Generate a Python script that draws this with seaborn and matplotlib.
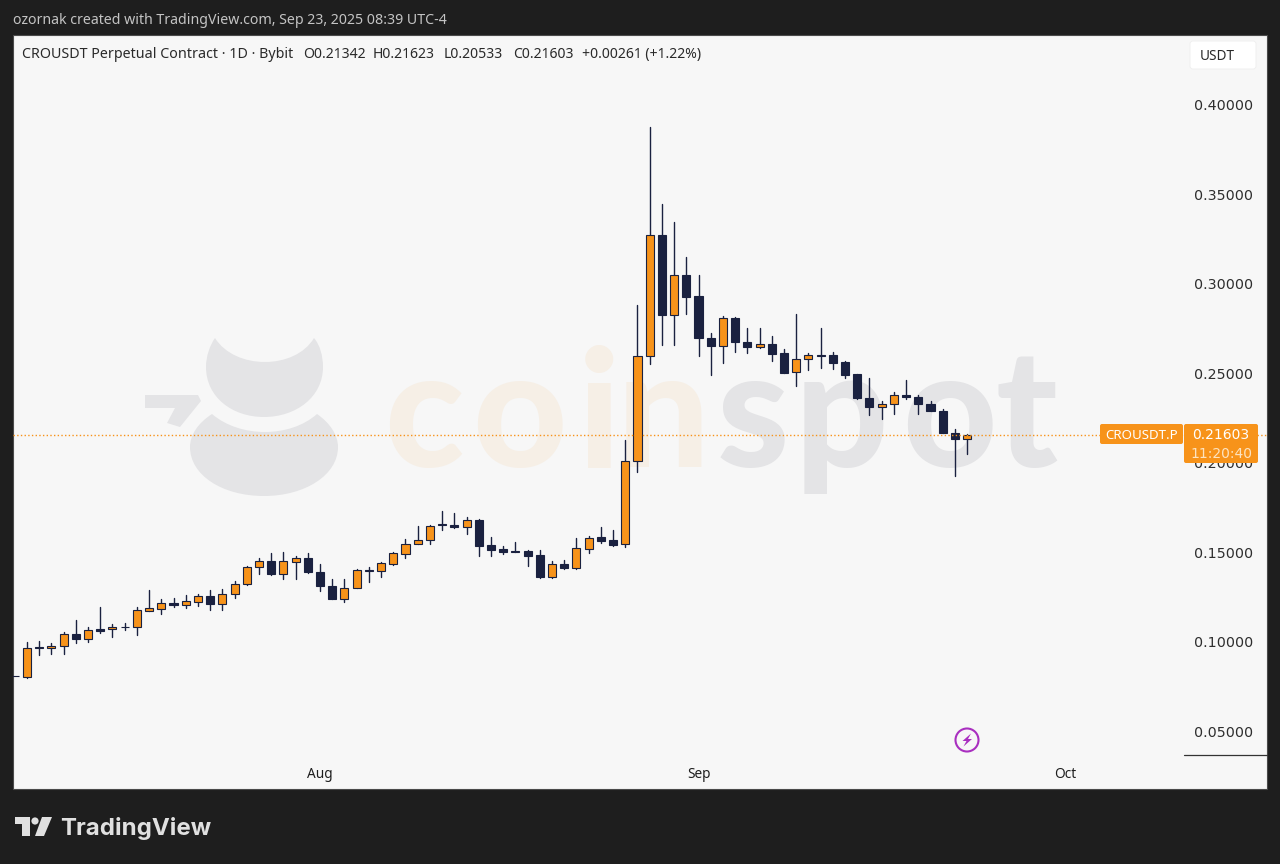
import pandas as pd
import seaborn as sns
import matplotlib.pyplot as plt
from matplotlib.transforms import ScaledTranslation
import matplotlib.dates as mdates
from matplotlib.patches import Rectangle, PathPatch, Polygon, Circle, FancyBboxPatch
from matplotlib.path import Path

dates = pd.date_range('2025-07-07', periods=79)

opens = [0.0813, 0.0809, 0.0973, 0.0969, 0.0980, 0.1047, 0.1017, 0.1075, 0.1073, 0.1088,
         0.1084, 0.1177, 0.1188, 0.1218, 0.1211, 0.1228, 0.1261, 0.1216, 0.1272, 0.1326,
         0.1419, 0.1455, 0.1380, 0.1451, 0.1469, 0.1393, 0.1317, 0.1244, 0.1304, 0.1402,
         0.1397, 0.1440, 0.1496, 0.1551, 0.1574, 0.1659, 0.1657, 0.1644, 0.1685, 0.1542,
         0.1520, 0.1510, 0.1510, 0.1486, 0.1363, 0.1438, 0.1414, 0.1523, 0.1587, 0.1570,
         0.1548, 0.2013, 0.2597, 0.3274, 0.2830, 0.3053, 0.2932, 0.2701, 0.2655, 0.2813,
         0.2679, 0.2647, 0.2668, 0.2614, 0.2508, 0.2584, 0.2603, 0.2603, 0.2564, 0.2498,
         0.2366, 0.2314, 0.2331, 0.2383, 0.2370, 0.2333, 0.2294, 0.2171, 0.21342]
closes = [0.0813, 0.0971, 0.0967, 0.0982, 0.1047, 0.1017, 0.1069, 0.1066, 0.1086, 0.1086,
          0.1179, 0.1190, 0.1218, 0.1209, 0.1229, 0.1261, 0.1216, 0.1272, 0.1328, 0.1421,
          0.1453, 0.1380, 0.1453, 0.1469, 0.1391, 0.1315, 0.1242, 0.1306, 0.1404, 0.1399,
          0.1441, 0.1497, 0.1551, 0.1574, 0.1652, 0.1654, 0.1642, 0.1683, 0.1540, 0.1518,
          0.1507, 0.1507, 0.1484, 0.1363, 0.1436, 0.1414, 0.1525, 0.1585, 0.1566, 0.1544,
          0.2014, 0.2599, 0.3273, 0.2830, 0.3053, 0.2928, 0.2698, 0.2653, 0.2811, 0.2677,
          0.2647, 0.2668, 0.2610, 0.2506, 0.2584, 0.2603, 0.2599, 0.2560, 0.2495, 0.2363,
          0.2314, 0.2333, 0.2381, 0.2368, 0.2331, 0.2292, 0.2171, 0.2134, 0.21603]
highs = [0.0815, 0.1004, 0.1010, 0.0999, 0.1058, 0.1125, 0.1086, 0.1198, 0.1103, 0.1110,
         0.1198, 0.1293, 0.1240, 0.1248, 0.1263, 0.1268, 0.1291, 0.1298, 0.1341, 0.1427,
         0.1473, 0.1499, 0.1505, 0.1482, 0.1499, 0.1438, 0.1356, 0.1352, 0.1408, 0.1421,
         0.1447, 0.1505, 0.1576, 0.1648, 0.1655, 0.1735, 0.1721, 0.1702, 0.1689, 0.1587,
         0.1538, 0.1561, 0.1516, 0.1516, 0.1455, 0.1460, 0.1581, 0.1594, 0.1642, 0.1626,
         0.2130, 0.2884, 0.3879, 0.3449, 0.3347, 0.3153, 0.3049, 0.2726, 0.2822, 0.2815,
         0.2754, 0.2757, 0.2709, 0.2638, 0.2833, 0.2614, 0.2754, 0.2621, 0.2569, 0.2500,
         0.2478, 0.2346, 0.2398, 0.2463, 0.2383, 0.2346, 0.2305, 0.2190, 0.21623]
lows = [0.0811, 0.0803, 0.0928, 0.0935, 0.0934, 0.0999, 0.1004, 0.1054, 0.1028, 0.1069,
        0.1043, 0.1174, 0.1159, 0.1198, 0.1192, 0.1203, 0.1181, 0.1181, 0.1246, 0.1319,
        0.1382, 0.1378, 0.1356, 0.1356, 0.1389, 0.1285, 0.1241, 0.1226, 0.1302, 0.1339,
        0.1363, 0.1434, 0.1471, 0.1549, 0.1549, 0.1629, 0.1641, 0.1607, 0.1482, 0.1484,
        0.1496, 0.1505, 0.1427, 0.1358, 0.1361, 0.1408, 0.1412, 0.1497, 0.1555, 0.1538,
        0.1531, 0.1951, 0.2554, 0.2659, 0.2659, 0.2833, 0.2597, 0.2495, 0.2560, 0.2621,
        0.2614, 0.2645, 0.2571, 0.2502, 0.2433, 0.2521, 0.2534, 0.2526, 0.2476, 0.2357,
        0.2268, 0.2246, 0.2277, 0.2357, 0.2277, 0.2290, 0.2169, 0.1929, 0.20533]

price_ticks = [0.05, 0.10, 0.15, 0.20, 0.25, 0.30, 0.35, 0.40]
month_ticks = pd.to_datetime(['2025-08-01', '2025-09-01', '2025-10-01'])
month_labels = ['Aug', 'Sep', 'Oct']
last_price = 0.21603

ORANGE = '#f7931a'
NAVY = '#1a2140'
PANE = '#f7f7f7'
DARK = '#1e1e1e'

sns.set_theme(style='white')
plt.rcParams['font.family'] = ['Noto Sans', 'DejaVu Sans']

df = pd.DataFrame({'date': dates, 'open': opens, 'high': highs, 'low': lows, 'close': closes})
df['up'] = df['close'] >= df['open']
wicks = df.melt(id_vars='date', value_vars=['high', 'low'], value_name='price')

fig = plt.figure(figsize=(12.8, 8.64), dpi=100, facecolor=DARK)

# background layer in pixels: pane and watermark
bg = fig.add_axes([0, 0, 1, 1], zorder=0)
bg.set_xlim(0, 1280)
bg.set_ylim(864, 0)
bg.axis('off')
bg.add_patch(Rectangle((13, 35), 1254, 754, fc=PANE, ec='#4a4a4a', lw=0.8))

M, C, Z = Path.MOVETO, Path.CURVE4, Path.CLOSEPOLY
top_shape = [(215, 338), (235, 370), (295, 370), (314, 338), (320, 345), (323, 356), (323, 367),
             (323, 397), (296, 417), (264, 417), (232, 417), (206, 397), (206, 367),
             (206, 356), (210, 345), (215, 338), (215, 338)]
low_shape = [(212, 414), (240, 438), (290, 438), (317, 414), (330, 423), (338, 435), (338, 447),
             (338, 475), (305, 496), (264, 496), (222, 496), (190, 475), (190, 447),
             (190, 435), (198, 423), (212, 414), (212, 414)]
codes = [M] + [C] * 15 + [Z]
for shape in (top_shape, low_shape):
    bg.add_patch(PathPatch(Path(shape, codes), fc='#e4e4e6', ec='none'))
bg.add_patch(Polygon([(145, 395), (198, 395), (201, 401), (180, 427), (167, 423), (175, 408), (145, 408)],
                     fc='#e4e4e6', ec='none'))
for letter, xp, col in [('c', 384, '#f6efe6'), ('o', 472, '#f6efe6'), ('i', 578, '#f6efe6'), ('n', 617, '#f6efe6'),
                        ('s', 717, '#e4e4e6'), ('p', 795, '#e4e4e6'), ('o', 902, '#e4e4e6'), ('t', 996, '#e4e4e6')]:
    bg.text(xp, 467, letter, family='Lato', weight=900, fontsize=118, color=col, va='baseline')

# chart layer
ax = fig.add_axes([13 / 1280, 75 / 864, 1254 / 1280, 754 / 864], zorder=1)
ax.patch.set_alpha(0)
sns.lineplot(data=wicks, x='date', y='price', units='date', estimator=None,
             color=NAVY, linewidth=1.0, legend=False, ax=ax)
for is_up, color in [(True, ORANGE), (False, NAVY)]:
    part = df[df['up'] == is_up]
    ax.bar(part['date'], part['close'] - part['open'], bottom=part['open'], width=0.66,
           color=color, edgecolor=NAVY, linewidth=0.8, zorder=3)
ax.axhline(last_price, color=ORANGE, linestyle=':', linewidth=1.0, zorder=4)

day0 = mdates.date2num(dates[1])
ax.set_xlim(day0 - 1.147, day0 + 101.56)
ax.set_ylim(0.0182, 0.4391)
ax.set_xticks(month_ticks)
ax.set_xticklabels(month_labels, fontweight='bold')
ax.tick_params(axis='x', length=0, pad=-15.5, labelsize=9.8, labelcolor='#1e1e1e')
ax.yaxis.tick_right()
ax.set_yticks(price_ticks)
ax.set_yticklabels([f'{p:.5f}' for p in price_ticks], family='DejaVu Sans', va='center')
ax.tick_params(axis='y', length=0, pad=-52.5, labelsize=10.3, labelcolor='#2e2e2e')
for lab in ax.get_yticklabels():
    lab.set_transform(lab.get_transform() + ScaledTranslation(0, -0.01, fig.dpi_scale_trans))
ax.set_xlabel('')
ax.set_ylabel('')
for side in ax.spines.values():
    side.set_visible(False)

# top layer: header, price labels, logo
top = fig.add_axes([0, 0, 1, 1], zorder=2)
top.set_xlim(0, 1280)
top.set_ylim(864, 0)
top.axis('off')

top.plot([1184, 1267], [755, 755], color='#333333', linewidth=0.9)
top.text(13, 20.5, 'ozornak created with TradingView.com, Sep 23, 2025 08:39 UTC-4',
         color='#c4c4c4', fontsize=10.2, va='center')
top.text(22, 54.5, 'CROUSDT Perpetual Contract · 1D · Bybit', color='#2a2a2a', fontsize=10.25, va='center')
for xp, s in [(303, 'O0.21342'), (373, 'H0.21623'), (444, 'L0.20533'), (513, 'C0.21603'),
              (582, '+0.00261 (+1.22%)')]:
    top.text(xp, 54.5, s, color='#2a2a2a', fontsize=10.1, va='center')

top.add_patch(FancyBboxPatch((1190, 41), 66, 28, boxstyle='round,pad=0,rounding_size=3', fc='white', ec='#eeeeee', lw=0.6))
top.text(1217, 56, 'USDT', color='#2a2a2a', fontsize=9.8, ha='center', va='center')

top.add_patch(FancyBboxPatch((1100, 424), 83, 20, boxstyle='round,pad=0,rounding_size=2', fc=ORANGE, ec='none'))
top.text(1141.5, 435.5, 'CROUSDT.P', color='white', fontsize=9.6, ha='center', va='center')
top.add_patch(FancyBboxPatch((1184, 424), 74, 39, boxstyle='round,pad=0,rounding_size=2', fc=ORANGE, ec='none'))
top.text(1221, 435, f'{last_price:.5f}', color='white', fontsize=10, family='DejaVu Sans', ha='center', va='center')
top.text(1221, 453.5, '11:20:40', color='#fde3c0', fontsize=10, family='DejaVu Sans', ha='center', va='center')

top.add_patch(Circle((967, 740), 11.5, fc='none', ec='#a92fc0', lw=1.5))
top.add_patch(Polygon([(971, 733.5), (962.5, 741), (966.5, 741), (963.5, 746.5), (972, 739), (968, 739)],
                      fc='#a92fc0', ec='none'))

top.add_patch(Polygon([(15, 817), (30, 817), (30, 836), (22, 836), (22, 824), (15, 824)], fc='#e0e0e0', ec='none'))
top.add_patch(Circle((35, 821), 3.6, fc='#e0e0e0', ec='none'))
top.add_patch(Polygon([(42, 817), (52, 817), (44, 836), (35, 836)], fc='#e0e0e0', ec='none'))
top.text(60, 828, 'TradingView', color='#e0e0e0', fontsize=17.3, family='Inter', weight='bold', va='center')

fig.savefig('out.png', dpi=100, facecolor=DARK)
